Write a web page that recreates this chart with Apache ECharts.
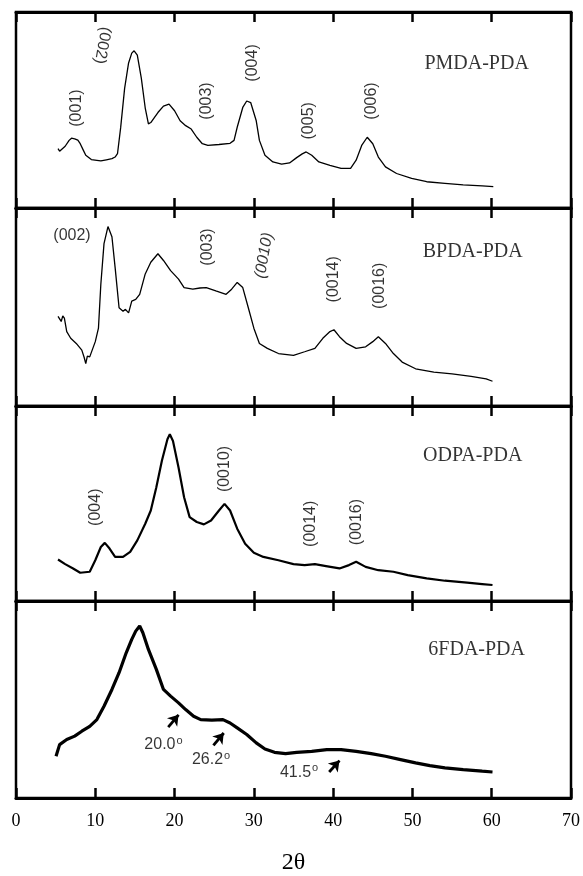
<!DOCTYPE html>
<html>
<head>
<meta charset="utf-8">
<script src="https://cdn.jsdelivr.net/npm/echarts@6/dist/echarts.min.js"></script>
<style>html,body{margin:0;padding:0;background:#fff;}#c{width:583px;height:876px;}</style>
</head>
<body>
<div id="c"></div>
<script>
// 2θ (deg) vs relative intensity (0-100 of each panel)
const pmda = [[5.3,30.3],[5.5,29.0],[5.7,29.4],[6.2,31.5],[6.7,34.5],[7.0,35.6],[7.4,35.3],[7.8,34.6],[8.1,32.8],[8.5,29.4],[8.8,26.9],[9.5,24.7],[10.2,24.3],[10.7,24.0],[11.4,24.6],[12.1,25.2],[12.5,26.0],[12.8,27.7],[13.2,41],[13.7,61],[14.2,74],[14.6,79],[14.9,80.2],[15.3,78],[15.8,66.4],[16.3,51],[16.7,42.9],[17.0,43.6],[17.2,44.5],[17.9,48.7],[18.6,52],[19.3,53],[20.0,49.6],[20.7,44.5],[21.4,42],[22.1,40.3],[22.8,36.1],[23.5,32.8],[24.2,31.9],[25.6,32.4],[27.0,33],[27.5,34.5],[27.9,41.2],[28.6,51.3],[29.1,54.6],[29.6,53.8],[30.3,44.5],[30.7,34.5],[31.4,26.9],[32.4,23.5],[33.5,22.4],[34.5,23],[35.4,25.7],[36.1,27.6],[36.6,28.6],[37.3,26.9],[38.2,23.5],[39.6,21.8],[41.0,20.2],[42.2,20.2],[42.9,24.4],[43.6,31.9],[44.3,36.1],[45.0,32.8],[45.7,26],[46.6,21],[48.0,17.6],[49.9,15.1],[51.8,13.4],[54.1,12.6],[56.4,11.8],[58.8,11.3],[60.2,10.9]];
const bpda = [[5.3,45.3],[5.5,46],[5.7,42.7],[5.9,45.5],[6.1,44.4],[6.4,37.6],[6.9,34.2],[7.6,31.6],[8.3,28.2],[8.6,24.5],[8.8,21.4],[9.0,25.2],[9.3,24.8],[10.0,32.5],[10.4,39.3],[10.7,61.5],[11.1,82],[11.6,90.6],[12.1,85.5],[12.5,70],[13.0,49.6],[13.5,47.9],[13.8,48.8],[14.2,47],[14.6,53],[15.1,53.8],[15.6,56.4],[16.3,66.7],[17.0,72.6],[17.9,76.9],[18.6,73.5],[19.5,68.4],[20.5,64.1],[21.2,59.8],[22.3,59],[23.2,59.6],[24.0,59.8],[25.2,58.1],[26.5,56.4],[27.2,59],[27.9,62.4],[28.6,59.8],[29.3,49.6],[30.0,39.3],[30.7,31.6],[31.7,29.1],[33.1,26.5],[35.0,25.6],[36.4,27.4],[37.7,29.1],[38.7,34.2],[39.6,37.6],[40.1,38.5],[40.8,35],[41.7,31.6],[42.9,29.1],[44.1,29.9],[45.0,32.5],[45.7,35],[46.6,31.6],[47.6,26.5],[48.7,22.2],[50.4,18.8],[52.7,17.1],[55.0,16.2],[57.4,15],[59.3,13.7],[60.1,12.5]];
const odpa = [[5.3,21.3],[6.2,18.9],[7.2,16.7],[8.1,14.5],[9.3,15],[10.0,20.9],[10.7,27.7],[11.2,29.8],[11.8,26.9],[12.5,22.6],[13.5,22.6],[14.4,25.2],[15.3,31.1],[16.3,39.6],[17.0,46.4],[17.7,58.3],[18.4,71.9],[19.1,83],[19.4,85.5],[19.8,82.1],[20.5,68.5],[21.2,53.2],[21.9,43],[22.8,40.5],[23.7,39.3],[24.6,41.3],[25.6,46.4],[26.3,49.8],[27.0,46.4],[27.9,37.1],[28.9,29.4],[30.0,24.7],[31.2,22.6],[33.1,20.9],[35.0,18.9],[36.4,18.4],[37.7,18.9],[39.1,17.9],[40.8,16.7],[42.0,18.4],[42.9,20.1],[44.1,17.5],[45.7,15.8],[47.6,15],[49.4,13.3],[51.8,11.6],[54.1,10.4],[56.9,9.4],[58.8,8.7],[60.1,8.2]];
const fda6 = [[5.05,21.2],[5.5,27.1],[6.4,29.7],[7.4,31.4],[8.3,33.9],[9.3,36.4],[10.2,39.8],[11.1,46.6],[12.1,55.1],[13.0,63.6],[13.9,73.7],[14.6,80.5],[15.1,84.7],[15.6,87.3],[16.0,83.9],[16.7,75.4],[17.7,65.3],[18.6,55.1],[19.5,51.7],[20.5,48.3],[21.4,44.9],[22.4,41.5],[23.3,39.8],[24.7,39.5],[26.1,39.8],[27.0,38.1],[27.9,35.6],[29.1,32.2],[30.3,28],[31.4,24.9],[32.6,23.2],[34.0,22.5],[35.4,23.2],[37.3,23.7],[39.2,24.6],[41.0,24.6],[42.9,23.7],[44.8,22.5],[46.6,21.2],[48.5,19.5],[50.4,17.8],[52.2,16.4],[54.1,15.3],[56.4,14.4],[58.8,13.6],[60.1,13.2]];

const panelNames = ['PMDA-PDA','BPDA-PDA','ODPA-PDA','6FDA-PDA'];
const namePos = [[58.1,73.8],[57.6,77.8],[57.6,74.5],[58.1,75.4]];
// peak labels: [text, 2θ, height, rotation]
const pmdaPeaks = [['(001)',7.6,51,90],['(002)',10.9,83,-100],['(003)',24.0,54.6,90],['(004)',29.8,74,90],['(005)',36.9,44.5,90],['(006)',44.8,54.6,90]];
const bpdaPeaks = [['(002)',7.06,86,0],['(003)',24.2,80.3,90],['(0010)',31.3,76,80],['(0014)',40.0,64,90],['(0016)',45.9,60.7,90]];
const odpaPeaks = [['(004)',10.0,48.1,90],['(0010)',26.3,67.7,90],['(0014)',37.1,39.6,90],['(0016)',42.9,40.5,90]];
const fdaNotes = [['20.0',18.6,27.1],['26.2',24.6,19.5],['41.5',35.7,13]];
const fdaArrows = [[[19.2,36.0],[20.5,42.2]],[[24.9,26.7],[26.2,33.0]],[[39.5,13.2],[40.8,19.0]]];
const xTickMax = 70, xTickStep = 10;

const grids = [{top:12,height:196},{top:208,height:198},{top:406,height:195},{top:601,height:197}];
const curves = [pmda,bpda,odpa,fda6];
const widths = [1.3,1.3,2.2,3.2];
const peaks = [pmdaPeaks,bpdaPeaks,odpaPeaks,[]];

const chart = echarts.init(document.getElementById('c'));
const option = {
  backgroundColor:'#fff',
  animation:false,
  grid: grids.map(g=>({left:16,right:12,top:g.top,height:g.height,show:true,borderColor:'#000',borderWidth:2.5,containLabel:false})),
  xAxis: [],
  yAxis: [],
  series: []
};
grids.forEach((g,i)=>{
  const base = {gridIndex:i,type:'value',min:0,max:xTickMax,interval:xTickStep,
    axisLine:{show:true,lineStyle:{color:'#000',width:3}},
    axisTick:{show:true,inside:true,length:10,lineStyle:{color:'#000',width:2.5}},
    splitLine:{show:false}};
  option.xAxis.push(Object.assign({},base,{position:'bottom',
    axisLabel:{show:i===3,color:'#000',fontFamily:'Liberation Serif',fontSize:18,margin:14},
    name:i===3?'2θ':'',nameLocation:'middle',nameGap:53,
    nameTextStyle:{color:'#000',fontFamily:'Liberation Serif',fontSize:24}}));
  option.xAxis.push(Object.assign({},base,{position:'top',axisLabel:{show:false}}));
  option.yAxis.push({gridIndex:i,type:'value',min:0,max:100,show:false});
  const s = {type:'line',xAxisIndex:2*i,yAxisIndex:i,data:curves[i],symbol:'none',
    lineStyle:{color:'#000',width:widths[i]},silent:true};
  if(i===3){
    s.markLine={silent:true,symbol:['none','arrow'],symbolSize:10,
      lineStyle:{color:'#000',width:2.8,type:'solid'},label:{show:false},
      data:fdaArrows.map(a=>[{coord:a[0]},{coord:a[1]}])};
  }
  option.series.push(s);
  option.series.push({type:'scatter',xAxisIndex:2*i,yAxisIndex:i,symbolSize:0,silent:true,
    data:[{value:namePos[i],label:{show:true,position:'inside',formatter:panelNames[i],
      color:'#000',fontFamily:'Liberation Serif',fontSize:20}}]});
  if(peaks[i].length){
    option.series.push({type:'scatter',xAxisIndex:2*i,yAxisIndex:i,symbolSize:0,silent:true,
      data:peaks[i].map(p=>({value:[p[1],p[2]],label:{show:true,position:'inside',formatter:p[0],rotate:p[3],
        color:'#000',fontFamily:'Liberation Sans',fontSize:16,
        fontStyle:(i===1&&p[0]==='(0010)')?'italic':'normal'}}))});
  }
  if(i===3){
    option.series.push({type:'scatter',xAxisIndex:2*i,yAxisIndex:i,symbolSize:0,silent:true,
      data:fdaNotes.map(n=>({value:[n[1],n[2]],label:{show:true,position:'inside',
        formatter:n[0]+'{s|o}',color:'#000',fontFamily:'Liberation Sans',fontSize:16,
        rich:{s:{fontSize:11,fontFamily:'Liberation Sans',color:'#000',verticalAlign:'top',padding:[0,0,8,1]}}}}))});
  }
});
chart.setOption(option);
</script>
</body>
</html>
